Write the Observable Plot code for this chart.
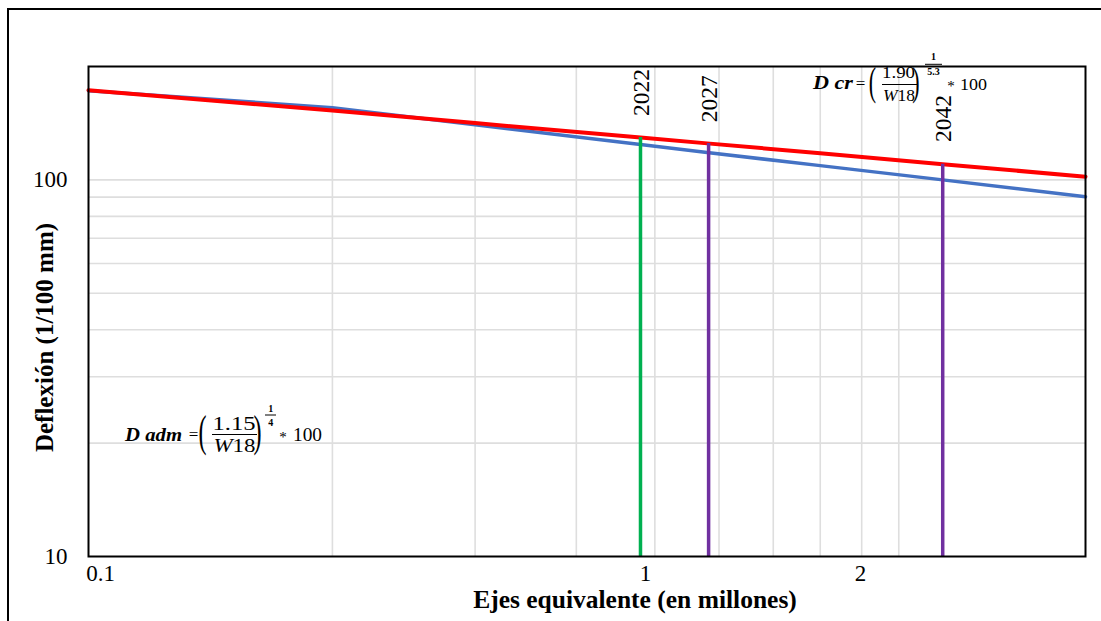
<!DOCTYPE html>
<html><head><meta charset="utf-8">
<script src="https://cdn.jsdelivr.net/npm/d3@7"></script>
<script src="https://cdn.jsdelivr.net/npm/@observablehq/plot@0.6"></script>
<style>
body{margin:0;background:#fff;}
#wrap{position:relative;width:1101px;height:621px;overflow:hidden;background:#fff;}
#border{position:absolute;left:7px;top:8px;width:1300px;height:900px;border-left:2px solid #000;border-top:2px solid #000;}
#chart{position:absolute;left:0;top:0;}
</style></head><body><div id="wrap"><div id="border"></div><div id="chart"></div></div>
<script>
// Data
const ejes = [0.1, 0.2, 0.3, 0.48, 0.58, 0.8, 1.133, 1.7];          // W18 (millones)
const dAdm = [172.5, 155.5, 140, 124.1, 118.2, 109.1, 100, 90.2];    // D adm (blue)
const dCr  = [173, 152.8, 141.5, 129.5, 125, 117.7, 110, 102];       // D cr (red)
const years = ["2022", "2027", "2042"];
const yearEjes = [0.48, 0.5825, 1.133];
const yearDcr = [129.5, 125, 110];
const yearColors = ["#00B050", "#7030A0", "#7030A0"];
const yearLabelY = [147.7, 142.3, 126.1];
const xTickLabels = ["0.1", "1", "2"];
const xTickPos = [0.1035, 0.487, 0.897];
const yTicks = [10, 100];
const xGrid = [0.2, 0.3, 0.4, 0.5, 0.6, 0.7, 0.8, 0.9, 1.0];
const yGrid = [20, 30, 40, 50, 60, 70, 80, 90, 100];

const blueRows = ejes.map((x, i) => ({x, y: dAdm[i]}));
const redRows = ejes.map((x, i) => ({x, y: dCr[i]}));
const yearRows = years.map((t, i) => ({t, x: yearEjes[i], top: yearDcr[i], color: yearColors[i], ly: yearLabelY[i]}));
const xLabelMap = new Map(xTickPos.map((p, i) => [p, xTickLabels[i]]));

const serif = "Liberation Serif";

const chart = Plot.plot({
  width: 1101, height: 621,
  marginLeft: 88, marginRight: 16, marginTop: 66, marginBottom: 65,
  style: {fontFamily: serif, background: "transparent", color: "#000", overflow: "visible"},
  x: {type: "log", domain: [0.1, 1.7]},
  y: {type: "log", domain: [10, 200]},
  color: {type: "identity"},
  marks: [
    Plot.ruleX(xGrid, {stroke: "#dedede", strokeWidth: 1.6}),
    Plot.ruleY(yGrid, {stroke: "#dedede", strokeWidth: 1.6}),
    Plot.line(blueRows, {x: "x", y: "y", stroke: "#4472C4", strokeWidth: 3.5}),
    Plot.line(redRows, {x: "x", y: "y", stroke: "#FF0000", strokeWidth: 4}),
    Plot.ruleX(yearRows, {x: "x", y1: 10, y2: "top", stroke: "color", strokeWidth: 3.5}),
    Plot.text(yearRows, {x: "x", y: "ly", text: "t", rotate: -90, textAnchor: "start", lineAnchor: "middle", dx: 1, fontSize: 23.5, fontFamily: serif, fill: "#000"}),
    Plot.axisX(xTickPos, {tickSize: 0, tickPadding: 8, fontSize: 23, fontFamily: serif, tickFormat: d => xLabelMap.get(d), label: null, fill: "#000"}),
    Plot.axisY(yTicks, {tickSize: 0, tickPadding: 21, fontSize: 23, fontFamily: serif, tickFormat: d => String(d), label: null, fill: "#000"}),
    Plot.text(["Ejes equivalente (en millones)"], {frameAnchor: "bottom", textAnchor: "middle", lineAnchor: "bottom", dx: 48, dy: 51, fontSize: 25.5, fontWeight: "bold", fontFamily: serif, fill: "#000"}),
    Plot.text(["Deflexión (1/100 mm)"], {frameAnchor: "left", textAnchor: "middle", rotate: -90, lineAnchor: "middle", dx: -44, dy: 26, fontSize: 25, fontWeight: "bold", fontFamily: serif, fill: "#000"}),
    Plot.frame({stroke: "#000", strokeWidth: 2})
  ]
});
document.getElementById("chart").appendChild(chart);

// Equation annotations
const svg = d3.select(chart);
const eq = svg.append("g").attr("font-family", serif).attr("fill", "#000");
function t(x, y, s, opts = {}) {
  const el = eq.append("text").attr("x", x).attr("y", y).text(s)
    .attr("font-size", opts.size || 17)
    .attr("text-anchor", opts.anchor || "start");
  if (opts.bold) el.attr("font-weight", "bold");
  if (opts.italic) el.attr("font-style", "italic");
  if (opts.len) el.attr("textLength", opts.len).attr("lengthAdjust", "spacingAndGlyphs");
  return el;
}
function paren(x, base, s, size) {
  eq.append("text").attr("transform", `translate(${x},${base}) scale(0.55,1)`)
    .attr("font-size", size).text(s);
}
function bar(x1, x2, y, w = 1.2) {
  eq.append("line").attr("x1", x1).attr("x2", x2).attr("y1", y).attr("y2", y)
    .attr("stroke", "#000").attr("stroke-width", w);
}
// D adm
t(125, 441, "D adm", {bold: true, italic: true, size: 18, len: 57});
t(193.5, 440, "=", {anchor: "middle", size: 17});
paren(202.5, 446, "(", 44);
t(234, 430, "1.15", {anchor: "middle", size: 18, len: 43});
bar(212, 257, 434.5);
const w1 = t(234.5, 452, "", {anchor: "middle", size: 18, len: 42});
w1.append("tspan").attr("font-style", "italic").text("W");
w1.append("tspan").text("18");
paren(257.5, 446, ")", 44);
t(270.7, 412, "1", {anchor: "middle", size: 10, bold: true});
bar(265, 276, 415, 1);
t(270.7, 426, "4", {anchor: "middle", size: 10, bold: true});
t(283, 442, "*", {anchor: "middle", size: 15});
t(293, 441, "100", {size: 18, len: 29});
// D cr
t(813, 89, "D cr", {bold: true, italic: true, size: 18, len: 40});
t(860.5, 89, "=", {anchor: "middle", size: 17});
paren(872.5, 95, "(", 40);
t(898.5, 78, "1.90", {anchor: "middle", size: 17, len: 33});
bar(882, 917, 84.5);
const w2 = t(899, 101, "", {anchor: "middle", size: 17, len: 32});
w2.append("tspan").attr("font-style", "italic").text("W");
w2.append("tspan").text("18");
paren(916, 95, ")", 40);
t(933.5, 60, "1", {anchor: "middle", size: 10, bold: true});
bar(925, 942, 64.3, 1);
t(933.5, 75, "5.3", {anchor: "middle", size: 10, bold: true});
t(951, 91, "*", {anchor: "middle", size: 15});
t(960, 90, "100", {size: 17, len: 27});
</script>
</body></html>
